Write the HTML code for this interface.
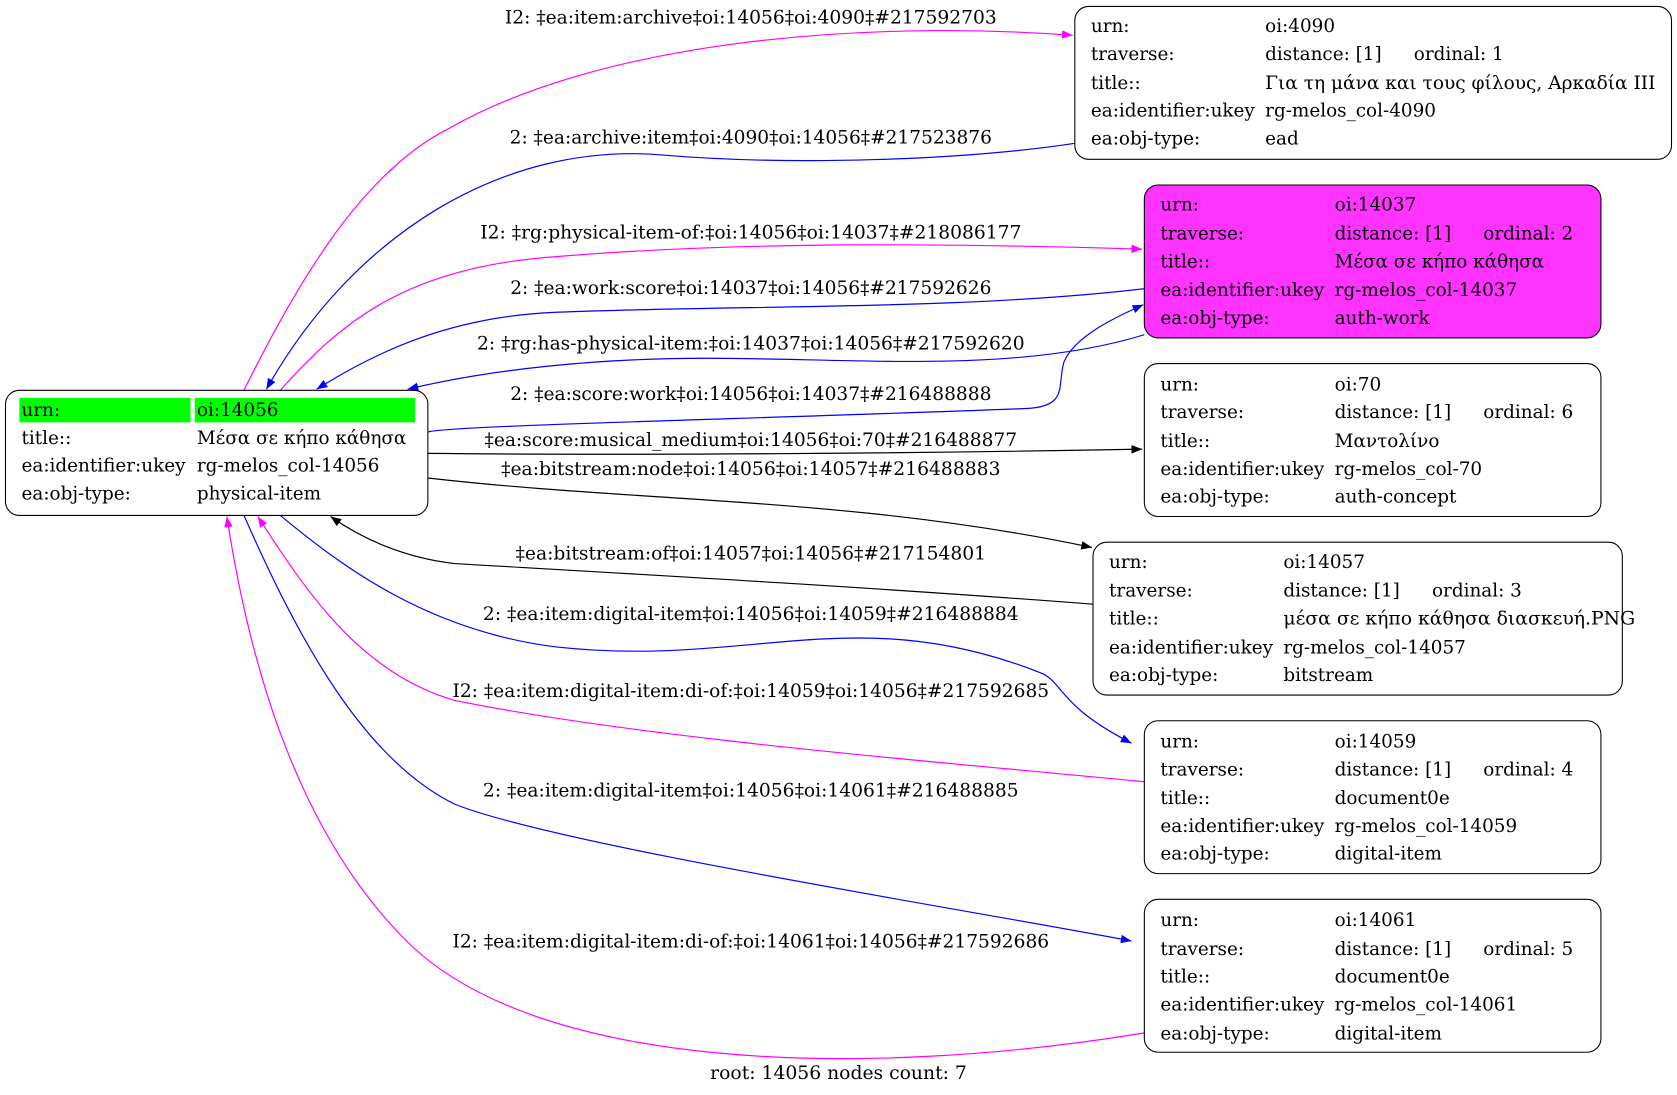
<!DOCTYPE html>
<html><head><meta charset="utf-8"><style>
html,body{margin:0;padding:0;background:#fff;}
svg{display:block;}
text{font-family:"DejaVu Serif","Liberation Serif",serif;font-size:17.2px;fill:#000;}
text.e{font-size:17px;}
</style></head><body>
<svg width="1677" height="1095" viewBox="0 0 1568 1024" xmlns="http://www.w3.org/2000/svg">
<defs>
<marker id="mm" markerWidth="10" markerHeight="8" refX="10" refY="4" orient="auto" markerUnits="userSpaceOnUse"><path d="M0,0 L10,4 L0,8 Z" fill="#ff00ff"/></marker>
<marker id="mb" markerWidth="10" markerHeight="8" refX="10" refY="4" orient="auto" markerUnits="userSpaceOnUse"><path d="M0,0 L10,4 L0,8 Z" fill="#0000ff"/></marker>
<marker id="mk" markerWidth="10" markerHeight="8" refX="10" refY="4" orient="auto" markerUnits="userSpaceOnUse"><path d="M0,0 L10,4 L0,8 Z" fill="#000"/></marker>
</defs>
<rect width="1568" height="1024" fill="#fff"/>
<g fill="none" stroke-width="1.1">
<path d="M228,365 C280,260 340,160 420,120 C560,40 800,18 1003,33" stroke="#ff00ff" marker-end="url(#mm)"/>
<path d="M1005,134 C900,150 740,155 620,145 C470,132 330,220 249,364" stroke="#0000ff" marker-end="url(#mb)"/>
<path d="M262,365 C320,300 380,250 520,240 C700,225 900,228 1068,233" stroke="#ff00ff" marker-end="url(#mm)"/>
<path d="M1070,270 C900,290 700,285 520,292 C420,296 350,330 296,364" stroke="#0000ff" marker-end="url(#mb)"/>
<path d="M1070,313 C950,350 800,335 660,335 C560,335 460,345 381,364" stroke="#0000ff" marker-end="url(#mb)"/>
<path d="M400,404 C420,398 700,392 960,382 C1000,380 988,360 995,338 C1005,315 1040,298 1069,285" stroke="#0000ff" marker-end="url(#mb)"/>
<path d="M400,424 C600,426 850,424 1068,420" stroke="#000" marker-end="url(#mk)"/>
<path d="M400,447 C600,470 800,465 1021,512" stroke="#000" marker-end="url(#mk)"/>
<path d="M1022,565 C800,548 560,535 425,527 C380,522 340,505 309,483" stroke="#000" marker-end="url(#mk)"/>
<path d="M262,482 C320,530 400,590 520,605 C700,625 800,560 975,630 C995,640 990,660 1058,695" stroke="#0000ff" marker-end="url(#mb)"/>
<path d="M1070,731 C850,710 600,690 425,655 C340,630 290,560 241,483" stroke="#ff00ff" marker-end="url(#mm)"/>
<path d="M228,482 C280,600 340,710 425,752 C520,790 900,850 1058,880" stroke="#0000ff" marker-end="url(#mb)"/>
<path d="M1070,966 C800,1010 500,1000 380,880 C270,770 230,600 212,483" stroke="#ff00ff" marker-end="url(#mm)"/>
</g>
<g text-anchor="middle">
<text class="e" x="702" y="22" textLength="460" lengthAdjust="spacingAndGlyphs">I2: ‡ea:item:archive‡oi:14056‡oi:4090‡#217592703</text>
<text class="e" x="702" y="134" textLength="451" lengthAdjust="spacingAndGlyphs">2: ‡ea:archive:item‡oi:4090‡oi:14056‡#217523876</text>
<text class="e" x="702" y="223" textLength="506" lengthAdjust="spacingAndGlyphs">I2: ‡rg:physical-item-of:‡oi:14056‡oi:14037‡#218086177</text>
<text class="e" x="702" y="275" textLength="450" lengthAdjust="spacingAndGlyphs">2: ‡ea:work:score‡oi:14037‡oi:14056‡#217592626</text>
<text class="e" x="702" y="327" textLength="512" lengthAdjust="spacingAndGlyphs">2: ‡rg:has-physical-item:‡oi:14037‡oi:14056‡#217592620</text>
<text class="e" x="702" y="374" textLength="450" lengthAdjust="spacingAndGlyphs">2: ‡ea:score:work‡oi:14056‡oi:14037‡#216488888</text>
<text class="e" x="702" y="417" textLength="498" lengthAdjust="spacingAndGlyphs">‡ea:score:musical_medium‡oi:14056‡oi:70‡#216488877</text>
<text class="e" x="702" y="444" textLength="467" lengthAdjust="spacingAndGlyphs">‡ea:bitstream:node‡oi:14056‡oi:14057‡#216488883</text>
<text class="e" x="702" y="523" textLength="440" lengthAdjust="spacingAndGlyphs">‡ea:bitstream:of‡oi:14057‡oi:14056‡#217154801</text>
<text class="e" x="702" y="580" textLength="501" lengthAdjust="spacingAndGlyphs">2: ‡ea:item:digital-item‡oi:14056‡oi:14059‡#216488884</text>
<text class="e" x="702" y="652" textLength="558" lengthAdjust="spacingAndGlyphs">I2: ‡ea:item:digital-item:di-of:‡oi:14059‡oi:14056‡#217592685</text>
<text class="e" x="702" y="745" textLength="501" lengthAdjust="spacingAndGlyphs">2: ‡ea:item:digital-item‡oi:14056‡oi:14061‡#216488885</text>
<text class="e" x="702" y="886" textLength="558" lengthAdjust="spacingAndGlyphs">I2: ‡ea:item:digital-item:di-of:‡oi:14061‡oi:14056‡#217592686</text>
<text class="e" x="784" y="1009" textLength="240" lengthAdjust="spacingAndGlyphs">root: 14056 nodes count: 7</text>
</g>
<!-- root -->
<rect x="5" y="365" width="395" height="117" rx="13" fill="#fff" stroke="#000"/>
<rect x="18" y="372" width="160" height="23" fill="#00ff00"/>
<rect x="182" y="372" width="206" height="23" fill="#00ff00"/>
<text x="20" y="389">urn:</text><text x="184" y="389">oi:14056</text>
<text x="20" y="415">title::</text><text x="184" y="415">Μέσα σε κήπο κάθησα</text>
<text x="20" y="441">ea:identifier:ukey</text><text x="184" y="441">rg-melos_col-14056</text>
<text x="20" y="467">ea:obj-type:</text><text x="184" y="467">physical-item</text>
<!-- 4090 -->
<rect x="1005" y="6" width="558" height="143" rx="13" fill="#fff" stroke="#000"/>
<text x="1020" y="30">urn:</text><text x="1183" y="30">oi:4090</text>
<text x="1020" y="56">traverse:</text><text x="1183" y="56">distance: [1]</text><text x="1322" y="56">ordinal: 1</text>
<text x="1020" y="83">title::</text><text x="1183" y="83" textLength="365" lengthAdjust="spacingAndGlyphs">Για τη μάνα και τους φίλους, Αρκαδία ΙΙΙ</text>
<text x="1020" y="109">ea:identifier:ukey</text><text x="1183" y="109">rg-melos_col-4090</text>
<text x="1020" y="135">ea:obj-type:</text><text x="1183" y="135">ead</text>
<!-- 14037 -->
<rect x="1070" y="173" width="427" height="143" rx="13" fill="#ff33ff" stroke="#000"/>
<text x="1085" y="197">urn:</text><text x="1248" y="197">oi:14037</text>
<text x="1085" y="224">traverse:</text><text x="1248" y="224">distance: [1]</text><text x="1387" y="224">ordinal: 2</text>
<text x="1085" y="250">title::</text><text x="1248" y="250">Μέσα σε κήπο κάθησα</text>
<text x="1085" y="277">ea:identifier:ukey</text><text x="1248" y="277">rg-melos_col-14037</text>
<text x="1085" y="303">ea:obj-type:</text><text x="1248" y="303">auth-work</text>
<!-- 70 -->
<rect x="1070" y="340" width="427" height="143" rx="13" fill="#fff" stroke="#000"/>
<text x="1085" y="365">urn:</text><text x="1248" y="365">oi:70</text>
<text x="1085" y="391">traverse:</text><text x="1248" y="391">distance: [1]</text><text x="1387" y="391">ordinal: 6</text>
<text x="1085" y="418">title::</text><text x="1248" y="418">Μαντολίνο</text>
<text x="1085" y="444">ea:identifier:ukey</text><text x="1248" y="444">rg-melos_col-70</text>
<text x="1085" y="470">ea:obj-type:</text><text x="1248" y="470">auth-concept</text>
<!-- 14057 -->
<rect x="1022" y="507" width="495" height="143" rx="13" fill="#fff" stroke="#000"/>
<text x="1037" y="531">urn:</text><text x="1200" y="531">oi:14057</text>
<text x="1037" y="558">traverse:</text><text x="1200" y="558">distance: [1]</text><text x="1339" y="558">ordinal: 3</text>
<text x="1037" y="584">title::</text><text x="1200" y="584" textLength="329" lengthAdjust="spacingAndGlyphs">μέσα σε κήπο κάθησα διασκευή.PNG</text>
<text x="1037" y="611">ea:identifier:ukey</text><text x="1200" y="611">rg-melos_col-14057</text>
<text x="1037" y="637">ea:obj-type:</text><text x="1200" y="637">bitstream</text>
<!-- 14059 -->
<rect x="1070" y="674" width="427" height="143" rx="13" fill="#fff" stroke="#000"/>
<text x="1085" y="699">urn:</text><text x="1248" y="699">oi:14059</text>
<text x="1085" y="725">traverse:</text><text x="1248" y="725">distance: [1]</text><text x="1387" y="725">ordinal: 4</text>
<text x="1085" y="752">title::</text><text x="1248" y="752">document0e</text>
<text x="1085" y="778">ea:identifier:ukey</text><text x="1248" y="778">rg-melos_col-14059</text>
<text x="1085" y="804">ea:obj-type:</text><text x="1248" y="804">digital-item</text>
<!-- 14061 -->
<rect x="1070" y="841" width="427" height="143" rx="13" fill="#fff" stroke="#000"/>
<text x="1085" y="866">urn:</text><text x="1248" y="866">oi:14061</text>
<text x="1085" y="893">traverse:</text><text x="1248" y="893">distance: [1]</text><text x="1387" y="893">ordinal: 5</text>
<text x="1085" y="919">title::</text><text x="1248" y="919">document0e</text>
<text x="1085" y="945">ea:identifier:ukey</text><text x="1248" y="945">rg-melos_col-14061</text>
<text x="1085" y="972">ea:obj-type:</text><text x="1248" y="972">digital-item</text>
</svg>
</body></html>
